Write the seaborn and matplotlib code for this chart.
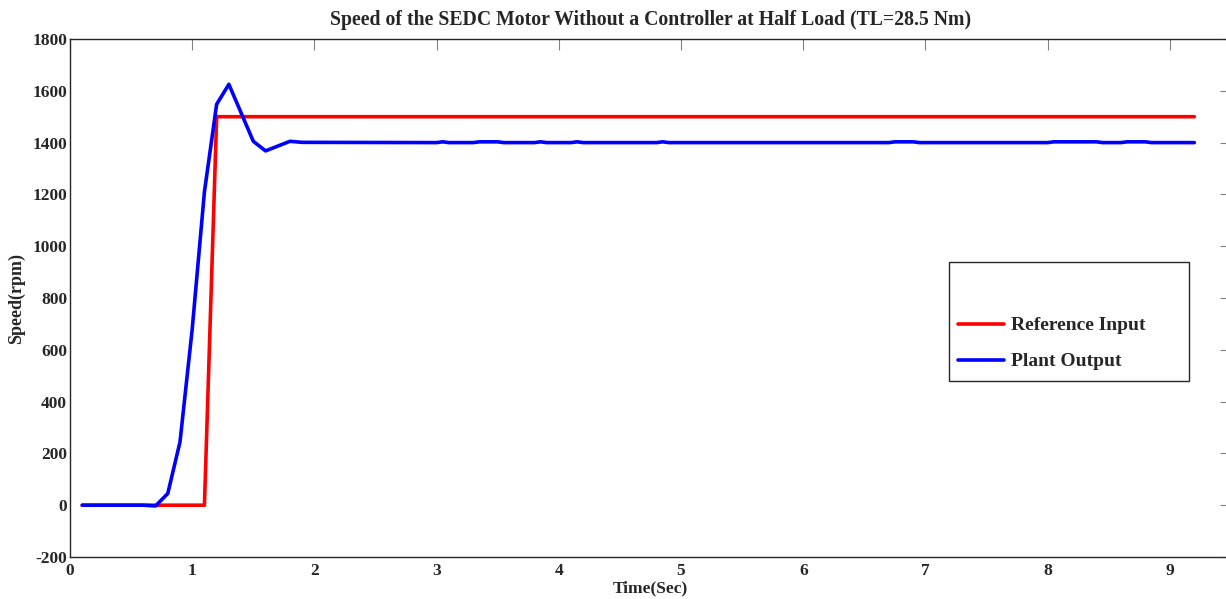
import matplotlib
matplotlib.use("Agg")
import matplotlib.pyplot as plt
import seaborn as sns
import pandas as pd
from matplotlib.lines import Line2D
from matplotlib.patches import Rectangle

# ---- data ----
ref_time = [0.1, 1.1, 1.2, 9.2]
ref_speed = [0, 0, 1500, 1500]

out_time = [0.1, 0.6, 0.7, 0.8, 0.9, 1.0, 1.1, 1.2, 1.3, 1.5, 1.6, 1.8, 1.9,
            3.0, 3.05, 3.1, 3.3, 3.35, 3.5, 3.55, 3.8, 3.85, 3.9, 4.1, 4.15, 4.2,
            4.8, 4.85, 4.9, 6.7, 6.75, 6.9, 6.95, 8.0, 8.05, 8.4, 8.45, 8.6, 8.65,
            8.8, 8.85, 9.2]
out_speed = [0, 0, -3, 45, 244, 680, 1210, 1548, 1625, 1405, 1368, 1405, 1401,
             1400, 1403, 1400, 1400, 1403, 1403, 1400, 1400, 1403, 1400, 1400, 1403, 1400,
             1400, 1403, 1400, 1400, 1403, 1403, 1400, 1400, 1403, 1403, 1400, 1400, 1403,
             1403, 1400, 1400]

xticks = [0, 1, 2, 3, 4, 5, 6, 7, 8, 9]
yticks = [-200, 0, 200, 400, 600, 800, 1000, 1200, 1400, 1600, 1800]

title = "Speed of the SEDC Motor Without a Controller at Half Load (TL=28.5 Nm)"
xlabel = "Time(Sec)"
ylabel = "Speed(rpm)"
labels = ["Reference Input", "Plant Output"]

sns.set_theme(style="white")
plt.rcParams["font.family"] = ["Liberation Serif", "DejaVu Serif"]
plt.rcParams["font.weight"] = "bold"
plt.rcParams["axes.unicode_minus"] = False

W, H = 1226, 599
fig = plt.figure(figsize=(W / 100, H / 100), dpi=100)
left, right, top, bottom = 70, 1231, 39, 557
ax = fig.add_axes([left / W, 1 - bottom / H, (right - left) / W, (bottom - top) / H])

df_ref = pd.DataFrame({"t": ref_time, "v": ref_speed})
df_out = pd.DataFrame({"t": out_time, "v": out_speed})
sns.lineplot(data=df_ref, x="t", y="v", ax=ax, color="#ff0000", lw=2.6,
             estimator=None, sort=False)
sns.lineplot(data=df_out, x="t", y="v", ax=ax, color="#0000ff", lw=2.6,
             estimator=None, sort=False)

ax.set_xlim(0, 9.5)
ax.set_ylim(-200, 1800)
ax.set_xticks(xticks)
ax.set_yticks(yticks)
ax.tick_params(direction="in", length=8, width=0.8, color="#808080",
               top=True, right=True, labelsize=12.5, pad=4)
ax.tick_params(axis="y", pad=2)
for lab in ax.get_xticklabels() + ax.get_yticklabels():
    lab.set_fontweight("bold")
for s in ax.spines.values():
    s.set_color("#262626")
    s.set_linewidth(1.0)

ax.set_title(title, fontsize=14.2, fontweight="bold", pad=10)
ax.set_xlabel(xlabel, fontsize=12.5, fontweight="bold", labelpad=1)
ax.set_ylabel(ylabel, fontsize=13, fontweight="bold", labelpad=5)

# legend box (MATLAB-style with empty top area)
box_x0, box_y0, box_w, box_h = 0.757, 0.3398, 0.2067, 0.2297
ax.add_patch(Rectangle((box_x0, box_y0), box_w, box_h, transform=ax.transAxes,
                       facecolor="white", edgecolor="#262626", lw=1.0, zorder=4))
handles = [Line2D([], [], color="#ff0000", lw=2.6),
           Line2D([], [], color="#0000ff", lw=2.6)]
leg = ax.legend(handles, labels, loc="center left",
                bbox_to_anchor=(0.765, 0.412), borderaxespad=0,
                prop={"family": "Liberation Serif", "weight": "bold", "size": 14},
                handlelength=2.35, handletextpad=0.35, labelspacing=0.95,
                borderpad=0, frameon=False)
leg.set_zorder(5)

fig.savefig("out.png", dpi=100)
